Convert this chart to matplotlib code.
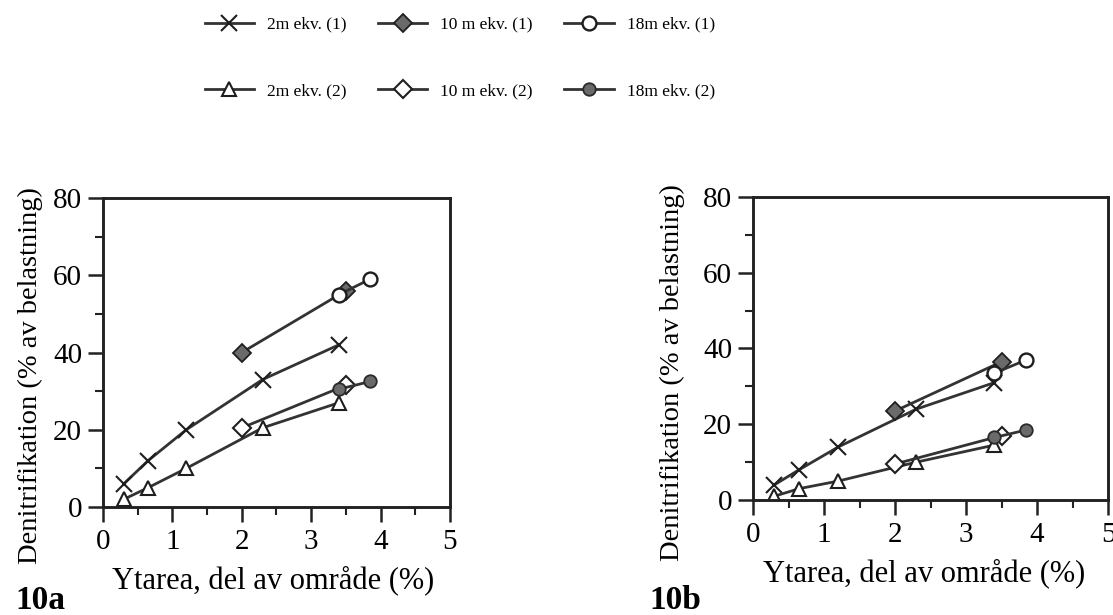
import matplotlib
matplotlib.use('Agg')
import matplotlib.pyplot as plt
from matplotlib.ticker import MultipleLocator

plt.rcParams['font.family'] = ['Liberation Serif', 'DejaVu Serif']

# denitrification vs surface area, two scenarios (10a, 10b)
x_2m = [0.3, 0.65, 1.2, 2.3, 3.4]
x_10m = [2.0, 3.5]
x_18m = [3.4, 3.85]

a_2m_1 = [6, 12, 20, 33, 42]
a_2m_2 = [2, 5, 10, 20.5, 27]
a_10m_1 = [40, 56]
a_10m_2 = [20.5, 31.5]
a_18m_1 = [55, 59]
a_18m_2 = [30.5, 32.5]

b_2m_1 = [4, 8, 14, 24, 31]
b_2m_2 = [1, 3, 5, 10, 14.5]
b_10m_1 = [23.5, 36.5]
b_10m_2 = [9.5, 17]
b_18m_1 = [33.5, 37]
b_18m_2 = [16.5, 18.5]

labels = ['2m ekv. (1)', '2m ekv. (2)', '10 m ekv. (1)', '10 m ekv. (2)',
          '18m ekv. (1)', '18m ekv. (2)']

line_c = '#333333'
fill_c = '#6a6a6a'
styles = [
    dict(marker='x', ms=11, mew=1.5, mfc='none', mec='#1e1e1e'),
    dict(marker='^', ms=10, mew=1.5, mfc='white', mec='#1e1e1e'),
    dict(marker='D', ms=9, mew=1.3, mfc=fill_c, mec='#1e1e1e'),
    dict(marker='D', ms=9, mew=1.5, mfc='white', mec='#1e1e1e'),
    dict(marker='o', ms=10, mew=1.7, mfc='white', mec='#1e1e1e'),
    dict(marker='o', ms=9, mew=1.3, mfc=fill_c, mec='#2a2a2a'),
]

fig = plt.figure(figsize=(11.13, 6.15), dpi=100)
ax_a = fig.add_axes([0.0925, 0.1756, 0.3118, 0.5024])
ax_b = fig.add_axes([0.6766, 0.187, 0.319, 0.4927])


def draw(ax, series):
    xs = [x_2m, x_2m, x_10m, x_10m, x_18m, x_18m]
    handles = []
    for x, y, st, lab in zip(xs, series, styles, labels):
        h, = ax.plot(x, y, color=line_c, lw=2.0, label=lab, **st)
        handles.append(h)
    ax.set_xlim(0, 5)
    ax.set_ylim(0, 80)
    ax.xaxis.set_major_locator(MultipleLocator(1))
    ax.xaxis.set_minor_locator(MultipleLocator(0.5))
    ax.yaxis.set_major_locator(MultipleLocator(20))
    ax.yaxis.set_minor_locator(MultipleLocator(10))
    ax.tick_params(which='major', direction='out', length=11, width=1.8,
                   labelsize=21, color='#222')
    ax.tick_params(axis='y', which='major', pad=4)
    ax.tick_params(axis='x', which='major', pad=5)
    ax.tick_params(which='minor', direction='out', length=5.5, width=1.5, color='#222')
    for s in ax.spines.values():
        s.set_linewidth(2.1)
        s.set_color('#222')
    return handles


hs = draw(ax_a, [a_2m_1, a_2m_2, a_10m_1, a_10m_2, a_18m_1, a_18m_2])
draw(ax_b, [b_2m_1, b_2m_2, b_10m_1, b_10m_2, b_18m_1, b_18m_2])

ylab = 'Denitrifikation (% av belastning)'
xlab = 'Ytarea, del av område (%)'
fig.text(0.027, 0.389, ylab, rotation=90, ha='center', va='center', fontsize=20.5)
fig.text(0.604, 0.395, ylab, rotation=90, ha='center', va='center', fontsize=20.5)
fig.text(0.245, 0.057, xlab, ha='center', va='center', fontsize=22)
fig.text(0.830, 0.068, xlab, ha='center', va='center', fontsize=22)
fig.text(0.014, 0.023, '10a', ha='left', va='center', fontsize=24, fontweight='bold')
fig.text(0.583, 0.024, '10b', ha='left', va='center', fontsize=24, fontweight='bold')

fig.legend(handles=hs, loc='center', bbox_to_anchor=(0.413, 0.906), ncol=3,
           frameon=False, fontsize=12.5, handlelength=2.85, handletextpad=0.75,
           columnspacing=1.8, labelspacing=2.9)

fig.savefig('out.png', dpi=100, facecolor='white')
